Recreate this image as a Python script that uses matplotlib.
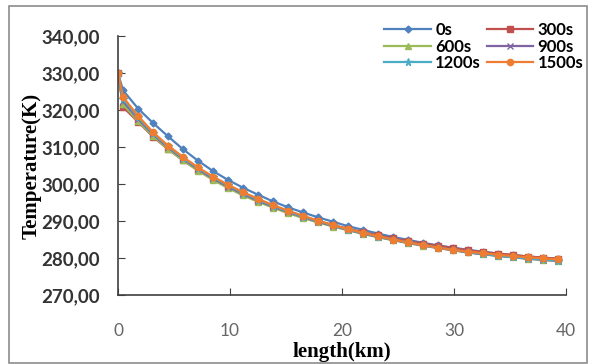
import matplotlib
matplotlib.use("Agg")
import matplotlib.pyplot as plt
from matplotlib.patches import Rectangle

# distance along the line (km)
length_km = [0, 0.45, 1.79, 3.12, 4.46, 5.80, 7.14, 8.48, 9.82, 11.16, 12.50,
             13.84, 15.18, 16.52, 17.86, 19.20, 20.54, 21.88, 23.21, 24.55,
             25.89, 27.23, 28.57, 29.91, 31.25, 32.59, 33.93, 35.27, 36.61,
             37.95, 39.29]

# temperature (K) for each time
t_0s = [330, 325.3, 320.4, 316.5, 312.9, 309.4, 306.3, 303.5, 301.1, 299.0, 297.1,
        295.3, 293.7, 292.3, 291.0, 289.8, 288.6, 287.6, 286.6, 285.7, 284.9,
        284.1, 283.4, 282.8, 282.2, 281.7, 281.2, 280.8, 280.4, 280.1, 279.8]
t_300s = [330, 320.8, 316.8, 312.8, 309.4, 306.4, 303.7, 301.3, 299.1, 297.2, 295.5,
          293.9, 292.5, 291.2, 290.0, 288.9, 287.9, 287.0, 286.1, 285.3, 284.6,
          283.9, 283.3, 282.7, 282.1, 281.6, 281.2, 280.8, 280.4, 280.1, 279.8]
t_600s = [330, 321.5, 317.0, 313.0, 309.5, 306.4, 303.6, 301.1, 298.9, 296.9, 295.2,
          293.6, 292.1, 290.8, 289.6, 288.5, 287.5, 286.5, 285.6, 284.8, 284.0,
          283.3, 282.7, 282.1, 281.5, 281.0, 280.6, 280.2, 279.8, 279.5, 279.2]
t_900s = [330, 322.3, 317.6, 313.4, 309.9, 306.8, 304.0, 301.5, 299.3, 297.3, 295.5,
          293.9, 292.4, 291.1, 289.8, 288.7, 287.6, 286.6, 285.7, 284.9, 284.1,
          283.4, 282.7, 282.1, 281.5, 281.0, 280.6, 280.2, 279.8, 279.5, 279.2]
t_1200s = [330, 323.0, 318.0, 313.7, 310.2, 307.0, 304.3, 301.8, 299.6, 297.6, 295.8,
           294.1, 292.6, 291.2, 290.0, 288.8, 287.7, 286.7, 285.8, 285.0, 284.2,
           283.5, 282.8, 282.2, 281.6, 281.1, 280.6, 280.2, 279.9, 279.6, 279.3]
t_1500s = [330, 323.5, 318.4, 314.0, 310.4, 307.3, 304.5, 302.0, 299.8, 297.8, 296.0,
           294.3, 292.8, 291.4, 290.1, 288.9, 287.8, 286.8, 285.9, 285.0, 284.2,
           283.5, 282.8, 282.2, 281.7, 281.3, 280.9, 280.5, 280.2, 279.9, 279.6]

labels = ['0s', '300s', '600s', '900s', '1200s', '1500s']
series = [t_0s, t_300s, t_600s, t_900s, t_1200s, t_1500s]
colors = ['#4F81BD', '#C0504D', '#9BBB59', '#8064A2', '#4BACC6', '#EE7D31']
markers = ['D', 's', '^', 'x', '*', 'o']
msizes = [3.5, 4, 4.5, 4.5, 5.5, 4.5]

fig = plt.figure(figsize=(5.89, 3.64), dpi=100)
# grey frame round the chart area
fig.patches.append(Rectangle((9 / 589, 1 / 364), 578 / 589, 357 / 364,
                             transform=fig.transFigure, fill=False,
                             edgecolor='#8c8c8c', linewidth=1.2))

ax = fig.add_axes([118 / 589, 1 - 295 / 364, 448 / 589, 259 / 364])

lines = []
for y, lab, c, m, ms in zip(series, labels, colors, markers, msizes):
    ln, = ax.plot(length_km, y, color=c, marker=m, markersize=ms, linewidth=1.6,
                  markeredgewidth=1.0, label=lab)
    lines.append(ln)

ax.set_xlim(0, 40)
ax.set_ylim(270, 340)
ax.set_xticks([0, 10, 20, 30, 40])
ax.set_yticks([270, 280, 290, 300, 310, 320, 330, 340])
ax.set_yticklabels([('%.2f' % v).replace('.', ',') for v in ax.get_yticks()],
                   fontfamily='Lato', fontweight='bold', fontsize=13.5, color='#333333')
ax.set_xticklabels(['0', '10', '20', '30', '40'], fontfamily='Lato',
                   fontsize=12.5, color='#666666')
ax.tick_params(axis='y', direction='in', length=5, pad=13, color='#404040')
ax.tick_params(axis='x', direction='in', length=5, pad=20, color='#404040')

for s in ['top', 'right']:
    ax.spines[s].set_visible(False)
for s in ['left', 'bottom']:
    ax.spines[s].set_color('#404040')
    ax.spines[s].set_linewidth(1.2)

ax.set_xlabel('length(km)', fontfamily='Liberation Serif', fontweight='bold',
              fontsize=15, labelpad=2)
ax.set_ylabel('Temperature(K)', fontfamily='Liberation Serif', fontweight='bold',
              fontsize=15, labelpad=0)

# legend is filled row by row in the reference
order = [0, 2, 4, 1, 3, 5]
fig.legend([lines[i] for i in order], [labels[i] for i in order],
           loc='upper left', bbox_to_anchor=(376 / 589, 1 - 14 / 364), ncol=2,
           frameon=False, borderpad=0, handlelength=2.8, handletextpad=0.25,
           columnspacing=0.35, labelspacing=0.02,
           prop={'family': 'Lato', 'weight': 'bold', 'size': 12})

fig.savefig('out.png', dpi=100)
